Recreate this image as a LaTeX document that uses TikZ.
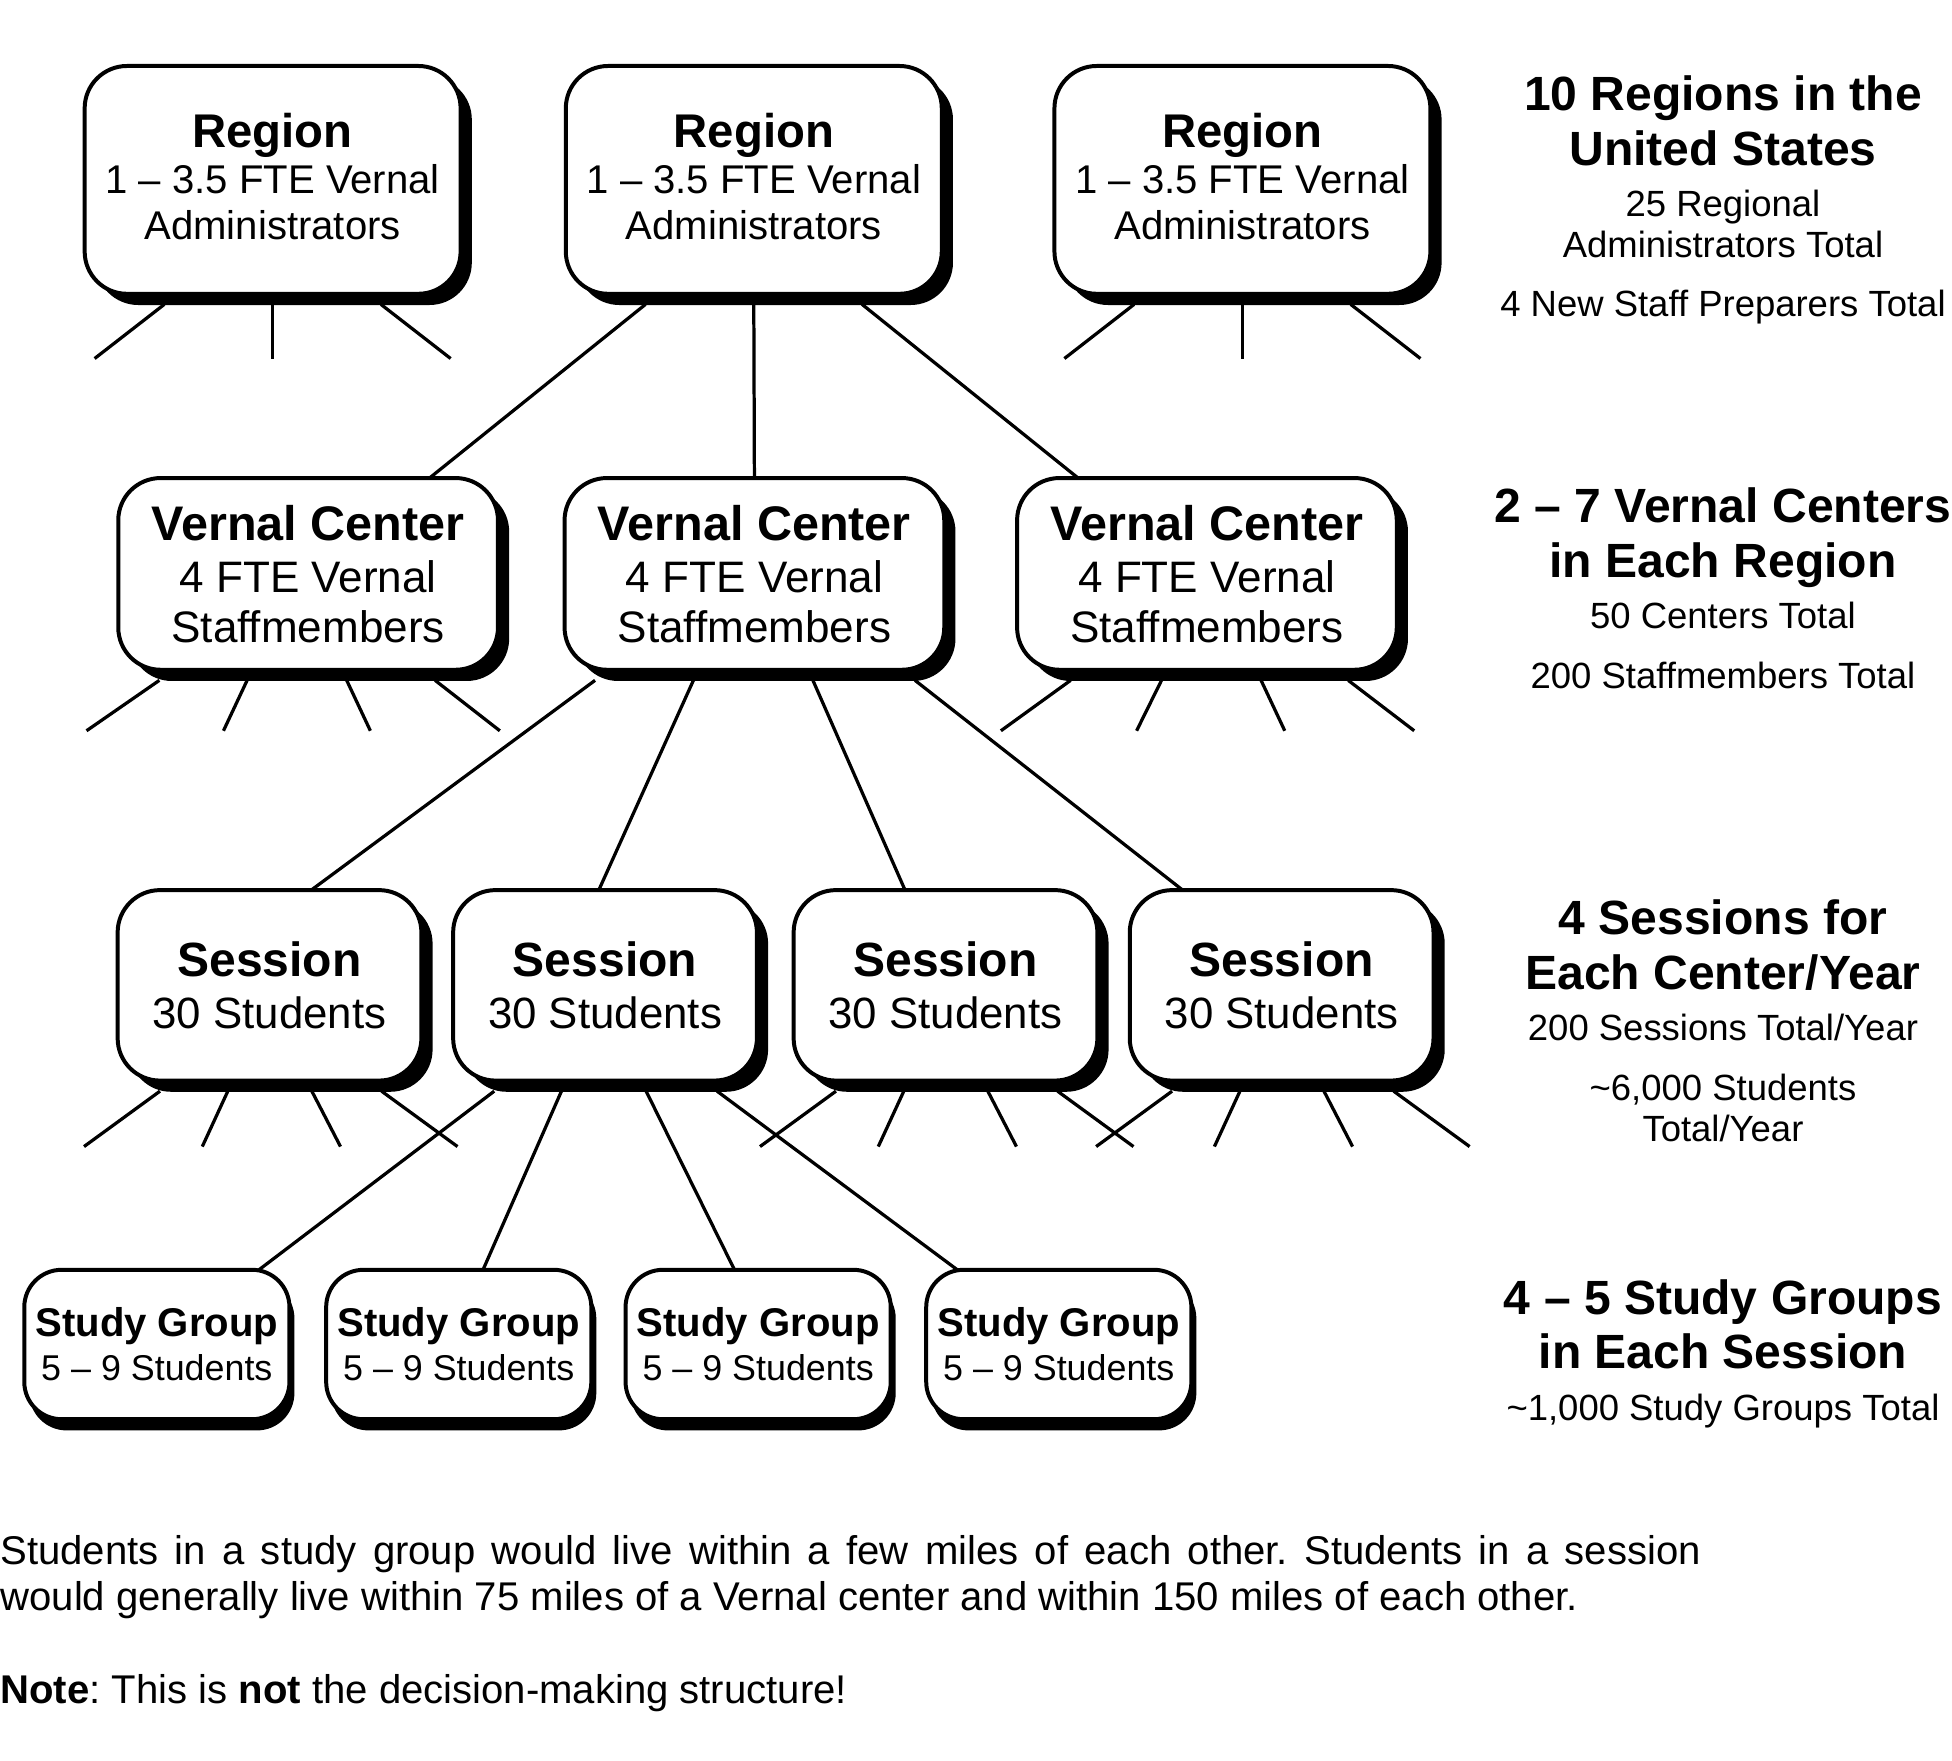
\documentclass[tikz,border=0pt]{standalone}
\usepackage{fontspec}
\setmainfont{Liberation Sans}
\usetikzlibrary{shadows,calc}
\newcommand\lowstrut[1]{\rule[-#1]{0pt}{#1}}
\frenchspacing
\begin{document}
\begin{tikzpicture}[x=0.5pt,y=-0.5pt,
  box/.style={draw=black, line width=1.6pt, fill=white, align=center, inner sep=0pt, outer sep=0pt, rounded corners=17pt},
  bigshadow/.style={drop shadow={shadow xshift=4.5pt, shadow yshift=-4.5pt, fill=black, opacity=1}},
  smallshadow/.style={drop shadow={shadow xshift=2pt, shadow yshift=-4.5pt, fill=black, opacity=1}},
  regbox/.style={box, bigshadow, minimum width=151pt, minimum height=91.5pt, font=\fontsize{16.1}{18.5}\selectfont},
  vcbox/.style={box, bigshadow, minimum width=152.5pt, minimum height=77pt, font=\fontsize{17.7}{20}\selectfont},
  sesbox/.style={box, bigshadow, minimum width=122pt, minimum height=76.5pt, font=\fontsize{17.6}{21}\selectfont},
  sgbox/.style={box, smallshadow, rounded corners=15pt, minimum width=106.5pt, minimum height=60pt, font=\fontsize{14.4}{17.6}\selectfont},
  conn/.style={draw=black, line width=1.3pt},
  hd/.style={anchor=base, inner sep=0pt, font=\fontsize{19.3}{19.3}\selectfont\bfseries},
  sub/.style={anchor=base, inner sep=0pt, font=\fontsize{14.65}{14.65}\selectfont},
  para/.style={anchor=base west, inner sep=0pt, font=\fontsize{16.1}{16.1}\selectfont}]
\useasboundingbox (0,0) rectangle (1568,1413.8);

% Regions
\foreach \n/\x in {R1/219, R2/605.5, R3/998}
  \node[regbox] (\n) at (\x,144.5) {{\bfseries\fontsize{19}{19}\selectfont Region}\\1 – 3.5 FTE Vernal\\Administrators\lowstrut{3pt}};

% Vernal centers
\foreach \n/\x in {VC1/247.5, VC2/606, VC3/969.5}
  \node[vcbox] (\n) at (\x,461) {{\bfseries\fontsize{19.5}{19.5}\selectfont Vernal Center}\\[0.9pt]4 FTE Vernal\\Staffmembers};

% Sessions
\foreach \n/\x in {S1/216.5, S2/486, S3/759.5, S4/1029.5}
  \node[sesbox] (\n) at (\x,791.5) {{\bfseries\fontsize{19.3}{19.3}\selectfont Session}\\30 Students};

% Study groups
\foreach \n/\x in {SG1/126, SG2/368.5, SG3/609, SG4/850.5}
  \node[sgbox] (\n) at (\x,1080) {{\bfseries\fontsize{16.1}{16.1}\selectfont Study Group}\\5 – 9 Students};

% Stubs (free ends)
\foreach \b in {R1,R3}
  \foreach \p/\q [count=\i] in {-87/-143, 0/0, 87/143} {
    \coordinate (\b-\i) at ($(\b.south)+(\q,52)$);
    \draw[conn] ($(\b.south)+(\p,8.5)$) -- (\b-\i);
  }
\foreach \p/\q [count=\i] in {-119.5/-178, -49/-68, 31/50, 102/154} {
  \coordinate (VC1-\i) at ($(VC1.south)+(\q,49)$);
  \draw[conn] ($(VC1.south)+(\p,8.5)$) -- (VC1-\i);
}
\foreach \p/\q [count=\i] in {-109.5/-165.5, -36.5/-56.5, 43.5/62.5, 113.5/166.5} {
  \coordinate (VC3-\i) at ($(VC3.south)+(\q,49)$);
  \draw[conn] ($(VC3.south)+(\p,8.5)$) -- (VC3-\i);
}
\foreach \b in {S1,S3,S4}
  \foreach \p/\q [count=\i] in {-88/-149, -33.5/-54, 34/57, 90/151} {
    \coordinate (\b-\i) at ($(\b.south)+(\q,53)$);
    \draw[conn] ($(\b.south)+(\p,8.5)$) -- (\b-\i);
  }

% Connectors
\draw[conn] ($(R2.south)+(-87,8.5)$) -- ($(VC1.north)+(97.5,0)$);
\draw[conn] ($(R2.south)+(0,8.5)$) -- (VC2.north);
\draw[conn] ($(R2.south)+(87,8.5)$) -- ($(VC3.north)+(-103.5,0)$);

\draw[conn] ($(VC2.south)+(-128,8.5)$) -- ($(S1.north)+(33.5,0)$);
\draw[conn] ($(VC2.south)+(-49,8.5)$) -- ($(S2.north)+(-5,0)$);
\draw[conn] ($(VC2.south)+(47,8.5)$) -- ($(S3.north)+(-32.5,0)$);
\draw[conn] ($(VC2.south)+(129,8.5)$) -- ($(S4.north)+(-79.5,0)$);

\draw[conn] ($(S2.south)+(-89,8.5)$) -- ($(SG1.north)+(82,0)$);
\draw[conn] ($(S2.south)+(-35,8.5)$) -- ($(SG2.north)+(19.5,0)$);
\draw[conn] ($(S2.south)+(33,8.5)$) -- ($(SG3.north)+(-19,0)$);
\draw[conn] ($(S2.south)+(90,8.5)$) -- ($(SG4.north)+(-81.5,0)$);

% Right column
\node[hd] (h1a) at (1384,88.6) {10 Regions in the};
\node[hd] (h1b) at (1384,132.6) {United States};
\node[sub] (t1a) at (1384,174) {25 Regional};
\node[sub] (t1b) at (1384,207) {Administrators Total};
\node[sub] (t1c) at (1384,254) {4 New Staff Preparers Total};

\node[hd] (h2a) at (1384,419.6) {2 – 7 Vernal Centers};
\node[hd] (h2b) at (1384,463.6) {in Each Region};
\node[sub] (t2a) at (1384,505) {50 Centers Total};
\node[sub] (t2b) at (1384,553) {200 Staffmembers Total};

\node[hd] (h3a) at (1384,750.6) {4 Sessions for};
\node[hd] (h3b) at (1384,794.6) {Each Center/Year};
\node[sub] (t3a) at (1384,836) {200 Sessions Total/Year};
\node[sub] (t3b) at (1384,884) {\textasciitilde 6,000 Students};
\node[sub] (t3c) at (1384,917) {Total/Year};

\node[hd] (h4a) at (1384,1055.6) {4 – 5 Study Groups};
\node[hd] (h4b) at (1384,1099.6) {in Each Session};
\node[sub] (t4a) at (1384,1141) {\textasciitilde 1,000 Study Groups Total};

% Bottom text
\node[para] (p1) at (0,1256.5) {\makebox[683pt][s]{Students in a study group would live within a few miles of each other. Students in a session}};
\node[para] (p2) at (0,1293.5) {would generally live within 75 miles of a Vernal center and within 150 miles of each other.};
\node[para] (p3) at (0,1368.5) {\textbf{Note}: This is \textbf{not} the decision-making structure!};
\end{tikzpicture}
\end{document}
